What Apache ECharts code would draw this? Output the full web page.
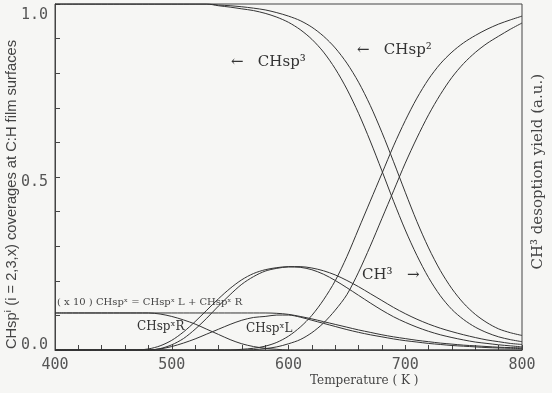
<!DOCTYPE html>
<html><head><meta charset="utf-8">
<script src="https://cdn.jsdelivr.net/npm/echarts@6/dist/echarts.min.js"></script>
<style>html,body{margin:0;padding:0;background:#f6f6f4;}#c{width:552px;height:393px;}</style>
</head><body><div id="c"></div>
<script>
const temps = [400,410,420,430,440,450,460,470,480,490,500,510,520,530,540,550,560,570,580,590,600,610,620,630,640,650,660,670,680,690,700,710,720,730,740,750,760,770,780,790,800];
const xTicks = [400,500,600,700,800];
const yTicks = [0.0,0.5,1.0];
const sp3A = [1,1,1,1,1,1,1,1,1,1,1,1,1,1,0.995,0.991,0.986,0.981,0.973,0.962,0.947,0.926,0.898,0.861,0.813,0.754,0.684,0.604,0.518,0.43,0.347,0.273,0.209,0.157,0.117,0.088,0.066,0.05,0.038,0.03,0.024];
const sp3B = [1,1,1,1,1,1,1,1,1,1,1,1,1,1,0.997,0.995,0.992,0.988,0.983,0.975,0.965,0.952,0.933,0.907,0.873,0.829,0.774,0.707,0.629,0.544,0.456,0.371,0.295,0.23,0.177,0.135,0.103,0.079,0.061,0.05,0.042];
const sp2A = [0,0,0,0,0,0,0,0,0,0,0,0,0,0,0,0,0.002,0.005,0.011,0.022,0.04,0.066,0.1,0.145,0.2,0.27,0.35,0.43,0.51,0.59,0.663,0.728,0.783,0.827,0.861,0.888,0.909,0.927,0.942,0.954,0.965];
const sp2B = [0,0,0,0,0,0,0,0,0,0,0,0,0,0,0,0,0,0.001,0.004,0.009,0.018,0.03,0.05,0.078,0.115,0.16,0.225,0.3,0.38,0.46,0.54,0.613,0.68,0.738,0.788,0.828,0.86,0.886,0.907,0.927,0.945];
const ch3A = [0,0,0,0,0,0,0,0,0.003,0.012,0.028,0.052,0.082,0.115,0.148,0.178,0.203,0.221,0.232,0.238,0.241,0.241,0.237,0.229,0.217,0.201,0.183,0.163,0.143,0.123,0.105,0.089,0.075,0.063,0.053,0.044,0.036,0.029,0.024,0.019,0.016];
const ch3B = [0,0,0,0,0,0,0,0,0,0.004,0.015,0.033,0.06,0.092,0.127,0.16,0.19,0.212,0.228,0.236,0.24,0.239,0.232,0.219,0.201,0.18,0.158,0.136,0.115,0.096,0.08,0.066,0.054,0.044,0.036,0.029,0.023,0.019,0.015,0.012,0.009];
const spxSum = [0.107,0.107,0.107,0.107,0.107,0.107,0.107,0.107,0.107,0.107,0.107,0.107,0.107,0.107,0.107,0.107,0.107,0.107,0.107,0.106,0.103,0.097,0.09,0.082,0.074,0.066,0.058,0.051,0.044,0.038,0.033,0.028,0.024,0.02,0.017,0.014,0.012,0.01,0.008,0.007,0.006];
const spxR = [0.107,0.107,0.107,0.107,0.107,0.107,0.107,0.107,0.107,0.104,0.097,0.087,0.075,0.06,0.045,0.03,0.018,0.01,0.005,0.002,0,0,0,0,0,0,0,0,0,0,0,0,0,0,0,0,0,0,0,0,0];
const spxL = [0,0,0,0,0,0,0,0,0,0.003,0.01,0.02,0.032,0.046,0.06,0.074,0.086,0.094,0.097,0.101,0.101,0.095,0.086,0.077,0.068,0.059,0.051,0.044,0.038,0.032,0.027,0.023,0.019,0.016,0.013,0.011,0.009,0.007,0.006,0.005,0.004];

const seriesData = [sp3A, sp3B, sp2A, sp2B, ch3A, ch3B, spxSum, spxR, spxL];
const chart = echarts.init(document.getElementById('c'), null, {renderer:'canvas'});
const tickFont = '"DejaVu Sans Mono", monospace';
const serif = '"DejaVu Serif", "Liberation Serif", serif';
const yRich = {
  fontFamily: tickFont, fontSize: 15, color: '#555'
};
chart.setOption({
  backgroundColor: '#f6f6f4',
  animation: false,
  grid: {left: 55, right: 30, top: 4, bottom: 43, show: true, borderColor: '#444', borderWidth: 1},
  xAxis: {
    type: 'value', min: 400, max: 800, interval: 100,
    axisLine: {show: true, lineStyle: {color: '#444', width: 1}},
    axisTick: {show: true, inside: true, length: 5, lineStyle: {color: '#444'}},
    minorTick: {show: true, splitNumber: 5, length: 5, lineStyle: {color: '#444'}},
    splitLine: {show: false},
    axisLabel: {color: '#555', fontFamily: tickFont, fontSize: 15, margin: 8,
      formatter: v => xTicks.indexOf(v) >= 0 ? String(v) : ''}
  },
  yAxis: {
    type: 'value', min: 0, max: 1, interval: 0.5,
    axisLine: {show: true, lineStyle: {color: '#444', width: 1}},
    axisTick: {show: true, inside: true, length: 5, lineStyle: {color: '#444'}},
    minorTick: {show: true, splitNumber: 5, length: 5, lineStyle: {color: '#444'}},
    splitLine: {show: false},
    axisLabel: {color: '#555', fontFamily: tickFont, fontSize: 15, margin: 7,
      rich: {
        top: Object.assign({padding: [22, 0, 0, 0]}, yRich),
        mid: Object.assign({padding: [10, 0, 0, 0]}, yRich),
        bot: Object.assign({padding: [0, 0, 9, 0]}, yRich)
      },
      formatter: v => {
        const t = yTicks.find(k => Math.abs(k - v) < 1e-6);
        if (t === undefined) return '';
        const key = t === 1 ? 'top' : (t === 0.5 ? 'mid' : 'bot');
        return '{' + key + '|' + t.toFixed(1) + '}';
      }}
  },
  series: seriesData.map(d => ({
    type: 'line', data: temps.map((t, i) => [t, d[i]]), symbol: 'none', smooth: 0.3,
    lineStyle: {color: '#333', width: 1}
  })),
  graphic: [
    {type: 'text', left: 4, top: 40, rotation: Math.PI/2, style: {text: 'CHspⁱ (i = 2,3,x) coverages at C:H film surfaces', fill: '#444', font: '14.7px "Liberation Sans", "DejaVu Sans", sans-serif'}},
    {type: 'text', left: 531, top: 74, rotation: Math.PI/2, style: {text: 'CH³ desoption yield (a.u.)', fill: '#444', font: '15px ' + serif}},
    {type: 'text', left: 310, top: 375, style: {text: 'Temperature ( K )', fill: '#444', font: '12px ' + serif}},
    {type: 'text', left: 231, top: 55, style: {text: '←   CHsp³', fill: '#333', font: '15px ' + serif}},
    {type: 'text', left: 357, top: 43, style: {text: '←   CHsp²', fill: '#333', font: '15px ' + serif}},
    {type: 'text', left: 362, top: 268, style: {text: 'CH³   →', fill: '#333', font: '15px ' + serif}},
    {type: 'text', left: 57, top: 297, style: {text: '( x 10 ) CHspˣ = CHspˣ L + CHspˣ R', fill: '#444', font: '10px ' + serif}},
    {type: 'text', left: 137, top: 321, style: {text: 'CHspˣR', fill: '#333', font: '12px ' + serif}},
    {type: 'text', left: 246, top: 323, style: {text: 'CHspˣL', fill: '#333', font: '12px ' + serif}}
  ]
});
</script></body></html>
